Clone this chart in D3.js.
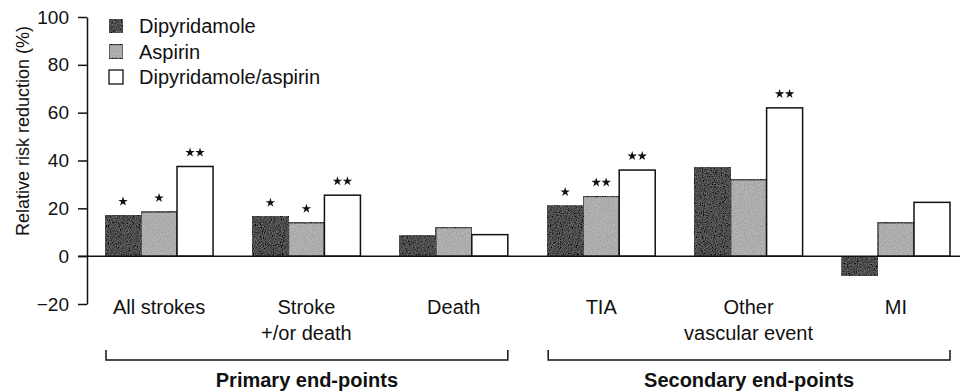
<!doctype html>
<html>
<head>
<meta charset="utf-8">
<script src="https://cdnjs.cloudflare.com/ajax/libs/d3/7.8.5/d3.min.js"></script>
<style>
  body { margin: 0; background: #fff; }
  text { font-family: "Liberation Sans", Arial, Helvetica, sans-serif; fill: #111; }
</style>
</head>
<body>
<svg width="964" height="392"></svg>
<script>
// data
var categories = ["All strokes", "Stroke|+/or death", "Death", "TIA", "Other|vascular event", "MI"];
var series = ["Dipyridamole", "Aspirin", "Dipyridamole/aspirin"];
var dipyridamole = [17, 16.5, 8.5, 21, 37, -8];
var aspirin = [18.5, 14, 12, 25, 32, 14];
var combined = [37.5, 25.5, 9, 36, 62, 22.5];
var stars = [["*", "*", "**"], ["*", "*", "**"], ["", "", ""], ["*", "**", "**"], ["", "", "**"], ["", "", ""]];
var groups = [{name: "Primary end-points", from: 0, to: 2}, {name: "Secondary end-points", from: 3, to: 5}];
var yTicks = [-20, 0, 20, 40, 60, 80, 100];

var fills = ["#0c0c0c", "#ababab", "#ffffff"];

var svg = d3.select("svg");

// grain for the printed look
var defs = svg.append("defs");
var f = defs.append("filter").attr("id", "grain").attr("x", 0).attr("y", 0).attr("width", 1).attr("height", 1);
f.append("feTurbulence").attr("type", "fractalNoise").attr("baseFrequency", 0.9).attr("numOctaves", 2).attr("seed", 3).attr("result", "noise");
f.append("feColorMatrix").attr("in", "noise").attr("type", "matrix")
  .attr("values", "2 0 0 0 -0.5  2 0 0 0 -0.5  2 0 0 0 -0.5  0 0 0 0 0.15").attr("result", "dots");
f.append("feComposite").attr("in", "dots").attr("in2", "SourceGraphic").attr("operator", "in").attr("result", "d2");
f.append("feMerge").call(m => { m.append("feMergeNode").attr("in", "SourceGraphic"); m.append("feMergeNode").attr("in", "d2"); });

var y = d3.scaleLinear().domain([-20, 100]).range([304, 17]);
var x = d3.scaleBand().domain(d3.range(categories.length)).range([105, 950]).paddingInner(0.267).paddingOuter(0);
var xs = d3.scaleBand().domain(d3.range(series.length)).range([0, x.bandwidth()]);

var rows = categories.map((c, i) => [dipyridamole[i], aspirin[i], combined[i]]);

// y axis
var yAxis = d3.axisLeft(y).tickValues(yTicks).tickSize(9).tickSizeOuter(0).tickPadding(9);
var ax = svg.append("g").attr("transform", "translate(87,0)").call(yAxis);
ax.select(".domain").attr("stroke", "#111").attr("stroke-width", 1.5);
ax.selectAll(".tick line").attr("stroke", "#111").attr("stroke-width", 1.5);
ax.selectAll(".tick text").style("font-size", "19px").attr("fill", "#111");

svg.append("text")
  .attr("transform", "translate(29," + 131 + ") rotate(-90)")
  .attr("text-anchor", "middle")
  .style("font-size", "18px")
  .text("Relative risk reduction (%)");

// bars
var g = svg.selectAll("g.grp").data(rows).enter().append("g")
  .attr("class", "grp")
  .attr("transform", (d, i) => "translate(" + x(i) + ",0)");

g.selectAll("rect").data(d => d).enter().append("rect")
  .attr("x", (d, j) => xs(j))
  .attr("width", xs.bandwidth())
  .attr("y", d => y(Math.max(0, d)))
  .attr("height", d => Math.abs(y(d) - y(0)))
  .attr("fill", (d, j) => fills[j])
  .attr("filter", (d, j) => j < 2 ? "url(#grain)" : null)
  .attr("stroke", "#111")
  .attr("stroke-width", 1.5);

// significance stars
var star = d3.symbol(d3.symbolStar).size(28);
rows.forEach((r, i) => {
  r.forEach((v, j) => {
    var n = stars[i][j].length;
    for (var k = 0; k < n; k++) {
      var cx = x(i) + xs(j) + xs.bandwidth() / 2 + (k - (n - 1) / 2) * 10;
      svg.append("path").attr("d", star)
        .attr("transform", "translate(" + cx + "," + (y(v) - 14) + ")")
        .attr("fill", "#111");
    }
  });
});

// zero line
svg.append("line")
  .attr("x1", 78).attr("x2", 960)
  .attr("y1", y(0)).attr("y2", y(0))
  .attr("stroke", "#111").attr("stroke-width", 1.5);

// category labels
categories.forEach((c, i) => {
  var t = svg.append("text")
    .attr("x", x(i) + x.bandwidth() / 2)
    .attr("y", 314)
    .attr("text-anchor", "middle")
    .style("font-size", "20px");
  c.split("|").forEach((line, k) => {
    t.append("tspan").attr("x", x(i) + x.bandwidth() / 2).attr("dy", k ? 26 : 0).text(line);
  });
});

// brackets and group titles
groups.forEach(gr => {
  var x0 = x(gr.from) + 1, x1 = x(gr.to) + x.bandwidth();
  svg.append("path")
    .attr("d", "M" + x0 + ",350V360H" + x1 + "V350")
    .attr("fill", "none").attr("stroke", "#111").attr("stroke-width", 1.5);
  svg.append("text")
    .attr("x", (x0 + x1) / 2)
    .attr("y", 387)
    .attr("text-anchor", "middle")
    .style("font-size", "20px")
    .style("font-weight", "bold")
    .text(gr.name);
});

// legend
var leg = svg.append("g").attr("transform", "translate(109,0)");
series.forEach((s, j) => {
  var cy = 26 + j * 25.5;
  leg.append("rect")
    .attr("x", 0).attr("y", cy - 7).attr("width", 14).attr("height", 14)
    .attr("fill", fills[j])
    .attr("filter", j < 2 ? "url(#grain)" : null)
    .attr("stroke", "#111").attr("stroke-width", 1.3);
  leg.append("text")
    .attr("x", 30).attr("y", cy + 7)
    .style("font-size", "20px")
    .text(s);
});
</script>
</body>
</html>
